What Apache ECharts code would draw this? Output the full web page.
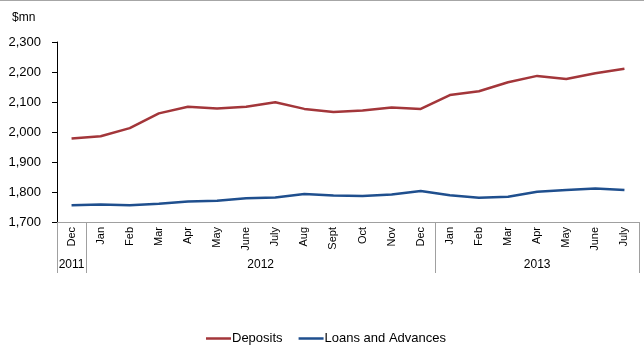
<!DOCTYPE html>
<html>
<head>
<meta charset="utf-8">
<script src="https://cdn.jsdelivr.net/npm/echarts@6/dist/echarts.min.js"></script>
<style>
  html, body { margin: 0; padding: 0; background: #fff; }
  #chart { width: 644px; height: 350px; }
</style>
</head>
<body>
<div id="chart"></div>
<script>
// Monthly balances, Dec 2011 – July 2013 ($mn)
const months = ['Dec', 'Jan', 'Feb', 'Mar', 'Apr', 'May', 'June', 'July', 'Aug', 'Sept', 'Oct', 'Nov', 'Dec',
                'Jan', 'Feb', 'Mar', 'Apr', 'May', 'June', 'July'];
const years = ['2011', '2012', '2013'];
const monthsPerYear = [1, 12, 7];

const deposits = [1978, 1986, 2013, 2062, 2084, 2078, 2084, 2099, 2077, 2067, 2072, 2082, 2077,
                  2123, 2136, 2166, 2187, 2177, 2196, 2211];
const loansAndAdvances = [1756, 1758, 1756, 1761, 1768, 1771, 1779, 1782, 1793, 1788, 1787, 1792, 1803,
                          1789, 1781, 1784, 1801, 1807, 1812, 1807];

const yTicks = [1700, 1800, 1900, 2000, 2100, 2200, 2300];

// Year group boundaries and centres on a 0..N scale aligned with the category bands
const yearEdges = [0];
monthsPerYear.forEach(n => yearEdges.push(yearEdges[yearEdges.length - 1] + n));
const yearCentres = years.map((_, i) => (yearEdges[i] + yearEdges[i + 1]) / 2);

const FONT = '"Liberation Sans", Arial, sans-serif';

const chart = echarts.init(document.getElementById('chart'), null, { renderer: 'canvas' });
chart.setOption({
  animation: false,
  backgroundColor: '#fff',
  title: {
    text: '$mn',
    left: 7, top: 7,
    textStyle: { fontFamily: FONT, fontSize: 12, fontWeight: 'normal', color: '#000' }
  },
  graphic: [{
    type: 'line',
    shape: { x1: 0, y1: 0.5, x2: 644, y2: 0.5 },
    style: { stroke: '#a6a6a6', lineWidth: 1 }
  }],
  legend: {
    left: 206, top: 332, padding: 0,
    icon: 'rect',
    itemWidth: 25, itemHeight: 2.5, itemGap: 16,
    textStyle: { fontFamily: FONT, fontSize: 13, color: '#000', padding: [0, 0, 0, -4] },
    data: ['Deposits', 'Loans and Advances']
  },
  grid: { left: 57, right: 5, top: 42, bottom: 128 },
  xAxis: [{
    type: 'category',
    data: months,
    boundaryGap: true,
    axisLine: { lineStyle: { color: '#a0a0a0', width: 1 } },
    axisTick: { show: false },
    axisLabel: { rotate: 90, interval: 0, margin: 5, fontFamily: FONT, fontSize: 11, color: '#000' }
  }, {
    type: 'value',
    min: 0,
    max: yearEdges[yearEdges.length - 1],
    position: 'bottom',
    axisLine: { show: false },
    splitLine: { show: false },
    axisTick: {
      show: true, length: 51, customValues: yearEdges,
      lineStyle: { color: '#a0a0a0', width: 1 }
    },
    axisLabel: {
      customValues: yearCentres,
      margin: 37,
      fontFamily: FONT, fontSize: 12, color: '#000',
      formatter: v => years[yearCentres.indexOf(v)] || ''
    }
  }],
  yAxis: {
    type: 'value',
    min: yTicks[0],
    max: yTicks[yTicks.length - 1],
    interval: 100,
    splitLine: { show: false },
    axisLine: { show: true, lineStyle: { color: '#000', width: 1 } },
    axisTick: { show: true, length: 5, lineStyle: { color: '#000' } },
    axisLabel: {
      margin: 16, fontFamily: FONT, fontSize: 13, color: '#000',
      formatter: v => v.toLocaleString('en-US')
    }
  },
  series: [{
    name: 'Deposits',
    type: 'line',
    data: deposits,
    symbol: 'none',
    color: '#a3363a',
    lineStyle: { width: 2.5, color: '#a3363a' }
  }, {
    name: 'Loans and Advances',
    type: 'line',
    data: loansAndAdvances,
    symbol: 'none',
    color: '#1f4f8e',
    lineStyle: { width: 2.5, color: '#1f4f8e' }
  }]
});
</script>
</body>
</html>
